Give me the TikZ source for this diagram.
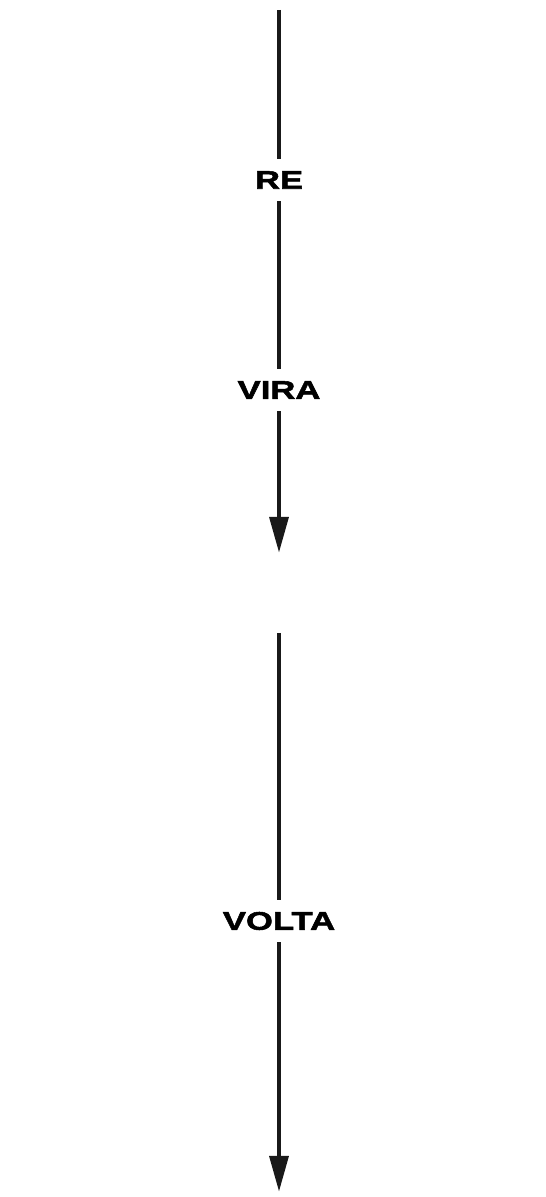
\documentclass[tikz,border=0pt]{standalone}
\usepackage{fontspec}
\newfontfamily\stepfont[FakeStretch=1.36, FakeBold=2]{Liberation Sans Bold}
\usetikzlibrary{arrows.meta}

\begin{document}
\begin{tikzpicture}[
    % Label and line styles
    steplabel/.style={inner sep=0pt, minimum height=0.84cm, font=\stepfont\fontsize{14.5}{16}\selectfont},
    flow/.style={line width=2.7pt, draw=black!90},
    arrow/.style={flow, -{Triangle[length=0.72cm, width=0.37cm]}}
]

% 1. Frame
\useasboundingbox[fill=white] (0, 0) rectangle (10.9, 23.94);

% 2. Labels
\node[steplabel] (re)    at (5.58, 20.34) {RE};
\node[steplabel] (vira)  at (5.58, 16.14) {VIRA};
\node[steplabel] (volta) at (5.58, 5.52)  {VOLTA};

% 3. Free ends
\coordinate (top)   at (5.58, 23.74);
\coordinate (tip1)  at (5.58, 12.88);
\coordinate (start) at (5.58, 11.28);
\coordinate (tip2)  at (5.58, 0.10);

% 4. First line
\draw[flow] (top) -- (re.north);
\draw[flow] (re.south) -- (vira.north);
\draw[arrow] (vira.south) -- (tip1);

% 5. Second line
\draw[flow] (start) -- (volta.north);
\draw[arrow] (volta.south) -- (tip2);

\end{tikzpicture}
\end{document}
